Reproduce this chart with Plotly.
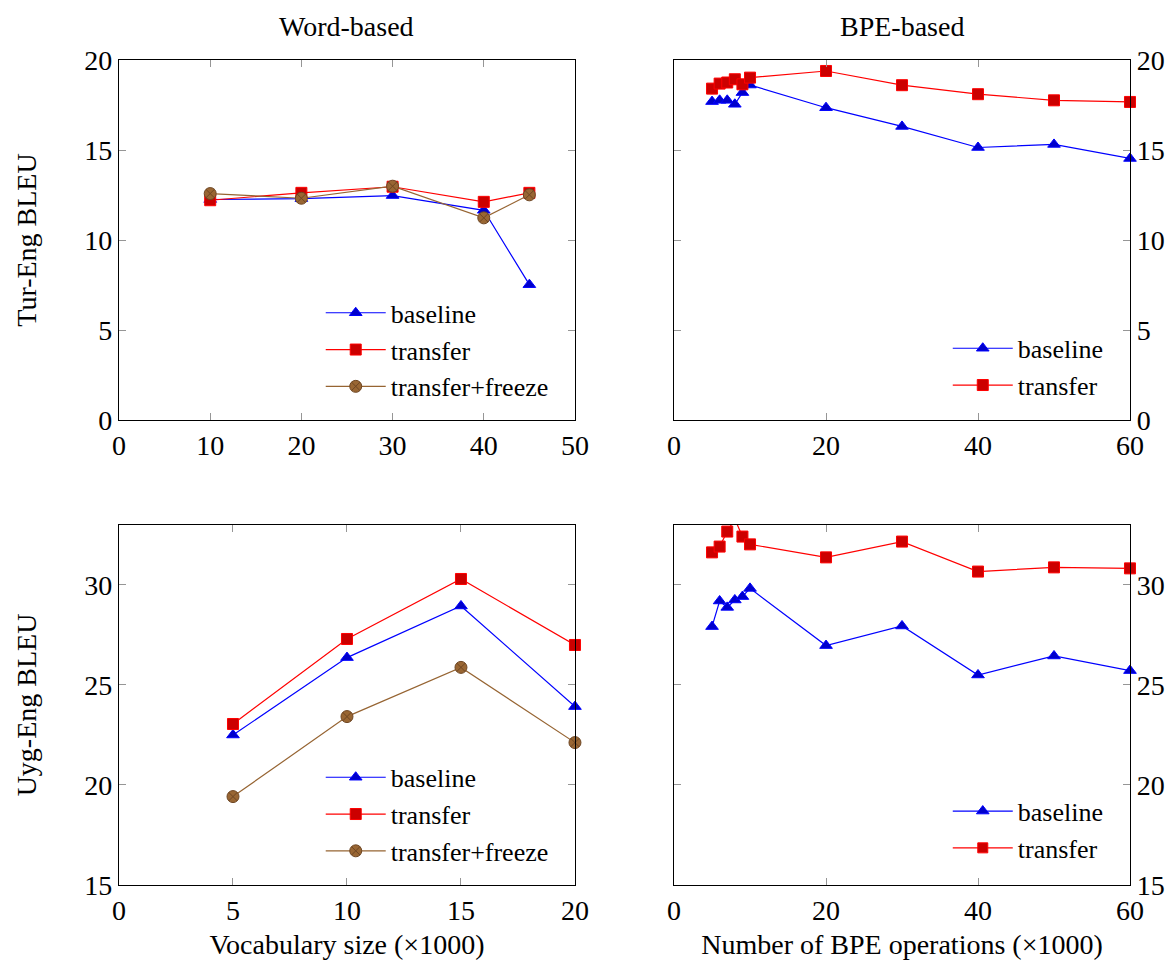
import plotly.graph_objects as go

# ---------------- data ----------------
word_tur_x = [10, 20, 30, 40, 45]
word_tur_baseline = [12.25, 12.3, 12.47, 11.65, 7.52]
word_tur_transfer = [12.21, 12.62, 12.96, 12.12, 12.62]
word_tur_freeze = [12.58, 12.32, 12.99, 11.23, 12.51]

bpe_x = [5, 6, 7, 8, 9, 10, 20, 30, 40, 50, 60]
bpe_tur_baseline = [17.69, 17.76, 17.76, 17.54, 18.19, 18.61, 17.35, 16.31, 15.14, 15.31, 14.53]
bpe_tur_transfer = [18.41, 18.69, 18.75, 18.93, 18.65, 19.02, 19.39, 18.6, 18.1, 17.76, 17.67]

word_uyg_x = [5, 10, 15, 20]
word_uyg_baseline = [22.5, 26.37, 28.95, 23.92]
word_uyg_transfer = [23.05, 27.3, 30.3, 27.0]
word_uyg_freeze = [19.42, 23.42, 25.88, 22.12]

bpe_uyg_baseline = [27.92, 29.2, 28.88, 29.25, 29.42, 29.83, 26.97, 27.95, 25.5, 26.45, 25.72]
bpe_uyg_transfer = [31.63, 31.92, 32.67, 33.3, 32.42, 32.03, 31.38, 32.17, 30.67, 30.88, 30.83]

col_titles = ["Word-based", "BPE-based"]
row_titles = ["Tur-Eng BLEU", "Uyg-Eng BLEU"]
x_titles = ["Vocabulary size (×1000)", "Number of BPE operations (×1000)"]

TOP_RANGE = [0, 20]
BOT_RANGE = [15, 33]

# ---------------- styles ----------------
FONT = "Liberation Serif"
FS = 28
LEG_FS = 26
BLUE_LINE, BLUE_FILL = "rgb(0,0,255)", "rgb(0,0,204)"
RED_LINE, RED_FILL = "rgb(255,0,0)", "rgb(204,0,0)"
BR_LINE, BR_FILL = "rgb(150,100,50)", "rgb(153,102,51)"


def sizes(y, rng, s):
    # markers outside the visible range are not drawn (as in the original)
    return [s if rng[0] <= v <= rng[1] else 0 for v in y]


def baseline(x, y, xa, ya, lg, rng):
    return go.Scatter(x=x, y=y, xaxis=xa, yaxis=ya, legend=lg, name="baseline",
                      mode="lines+markers", line=dict(color=BLUE_LINE, width=1.2),
                      cliponaxis=False,
                      marker=dict(symbol="triangle-up", size=sizes(y, rng, 11), color=BLUE_FILL,
                                  opacity=1, line=dict(color=BLUE_LINE, width=1)))


def transfer(x, y, xa, ya, lg, rng):
    return go.Scatter(x=x, y=y, xaxis=xa, yaxis=ya, legend=lg, name="transfer",
                      mode="lines+markers", line=dict(color=RED_LINE, width=1.2),
                      cliponaxis=False,
                      marker=dict(symbol="square", size=sizes(y, rng, 11), color=RED_FILL,
                                  opacity=1, line=dict(color=RED_LINE, width=1)))


def freeze(x, y, xa, ya, lg, rng):
    return go.Scatter(x=x, y=y, xaxis=xa, yaxis=ya, legend=lg, name="transfer+freeze",
                      mode="lines+markers", line=dict(color=BR_LINE, width=1.2),
                      cliponaxis=False,
                      marker=dict(symbol="circle-x", size=sizes(y, rng, 12), color=BR_FILL,
                                  opacity=1, line=dict(color="rgb(110,70,35)", width=1)))


fig = go.Figure()
fig.add_trace(baseline(word_tur_x, word_tur_baseline, "x", "y", "legend", TOP_RANGE))
fig.add_trace(transfer(word_tur_x, word_tur_transfer, "x", "y", "legend", TOP_RANGE))
fig.add_trace(freeze(word_tur_x, word_tur_freeze, "x", "y", "legend", TOP_RANGE))

fig.add_trace(baseline(bpe_x, bpe_tur_baseline, "x2", "y2", "legend2", TOP_RANGE))
fig.add_trace(transfer(bpe_x, bpe_tur_transfer, "x2", "y2", "legend2", TOP_RANGE))

fig.add_trace(baseline(word_uyg_x, word_uyg_baseline, "x3", "y3", "legend3", BOT_RANGE))
fig.add_trace(transfer(word_uyg_x, word_uyg_transfer, "x3", "y3", "legend3", BOT_RANGE))
fig.add_trace(freeze(word_uyg_x, word_uyg_freeze, "x3", "y3", "legend3", BOT_RANGE))

fig.add_trace(baseline(bpe_x, bpe_uyg_baseline, "x4", "y4", "legend4", BOT_RANGE))
fig.add_trace(transfer(bpe_x, bpe_uyg_transfer, "x4", "y4", "legend4", BOT_RANGE))

xl = [0, 0.451]
xr = [0.549, 1.0]
yt = [0.5636, 1.0]
yb = [0.0, 0.4364]


def ax(domain, rng, dtick, anchor, side=None, title=None, standoff=None):
    d = dict(domain=domain, range=rng, dtick=dtick, tick0=0, anchor=anchor,
             automargin=False,
             showgrid=False, zeroline=False, showline=True, linecolor="black",
             linewidth=1.2, mirror="ticks", ticks="inside", ticklen=7,
             tickcolor="rgb(150,150,150)", tickwidth=1.2,
             tickfont=dict(family=FONT, size=FS, color="black"))
    if side:
        d["side"] = side
    if title:
        d["title"] = dict(text=title, font=dict(family=FONT, size=FS, color="black"),
                          standoff=standoff)
    return d


fig.update_layout(
    width=1166, height=952,
    margin=dict(l=111, r=44, t=52, b=75),
    paper_bgcolor="white", plot_bgcolor="white",
    font=dict(family=FONT, size=FS, color="black"),
    xaxis=ax(xl, [0, 50], 10, "y"),
    yaxis=ax(yt, TOP_RANGE, 5, "x", title=row_titles[0], standoff=39),
    xaxis2=ax(xr, [0, 60], 20, "y2"),
    yaxis2=ax(yt, TOP_RANGE, 5, "x2", side="right"),
    xaxis3=ax(xl, [0, 20], 5, "y3", title=x_titles[0], standoff=12),
    yaxis3=ax(yb, BOT_RANGE, 5, "x3", title=row_titles[1], standoff=39),
    xaxis4=ax(xr, [0, 60], 20, "y4", title=x_titles[1], standoff=12),
    yaxis4=ax(yb, BOT_RANGE, 5, "x4", side="right"),
)


def leg(x, y):
    return dict(x=x, y=y, xanchor="right", yanchor="top", bgcolor="rgba(255,255,255,0)",
                borderwidth=0, font=dict(family=FONT, size=LEG_FS, color="black"),
                itemwidth=60, tracegroupgap=0)


fig.update_layout(
    legend=leg(0.430, 0.722),
    legend2=leg(0.979, 0.679),
    legend3=leg(0.430, 0.159),
    legend4=leg(0.979, 0.118),
)

for txt, xc in zip(col_titles, [0.2255, 0.7745]):
    fig.add_annotation(text=txt, x=xc, y=1.0, xref="paper", yref="paper",
                       xanchor="center", yanchor="bottom", yshift=16, showarrow=False,
                       font=dict(family=FONT, size=FS, color="black"))

fig.write_html("out.html")
